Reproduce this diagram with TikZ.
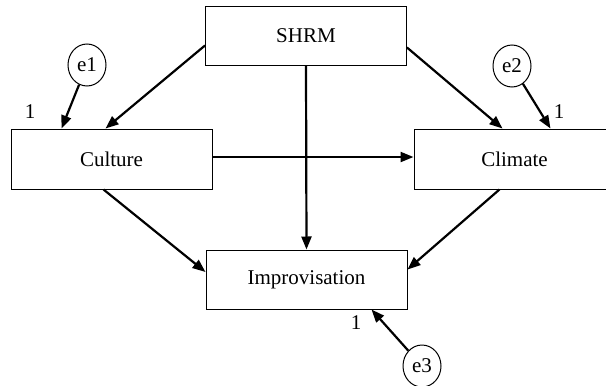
\documentclass[tikz,border=0pt]{standalone}
\usepackage{fontspec}
\setmainfont{Liberation Serif}
\usetikzlibrary{arrows.meta,shapes.geometric}
\begin{document}
\begin{tikzpicture}[x=1pt,y=-1pt,
  box/.style={draw,line width=1pt,minimum width=201pt,minimum height=59pt,inner sep=0pt,font=\fontsize{21}{24}\selectfont},
  err/.style={draw,ellipse,line width=1pt,minimum width=38pt,minimum height=42pt,inner sep=0pt,font=\fontsize{21}{24}\selectfont},
  lab/.style={font=\fontsize{21}{24}\selectfont,inner sep=0pt},
  arr/.style={line width=2.2pt,-{Triangle[length=13pt,width=10pt]}}]
\useasboundingbox (0,0) rectangle (606,386);
\node[box,minimum height=59pt] (shrm) at (306,35.5) {SHRM};
\node[box,minimum height=60pt] (cult) at (111.5,159) {Culture};
\node[box,minimum height=60pt] (clim) at (514.5,159) {Climate};
\node[box] (impr) at (306.5,279.5) {Improvisation};
\node[err] (e1) at (87,65) {e1};
\node[err] (e2) at (512,66) {e2};
\node[err] (e3) at (422,366) {e3};
\node[lab] (l1) at (30,112) {1};
\node[lab] (l2) at (559,112) {1};
\node[lab] (l3) at (356,323) {1};
\draw[arr] (e1) -- ([xshift=51pt]cult.north west);
\draw[arr] ([yshift=20pt]shrm.south west) -- ([xshift=95pt]cult.north west);
\draw[arr] ([yshift=18pt]shrm.south east) -- ([xshift=89pt]clim.north west);
\draw[arr] (e2) -- ([xshift=137pt]clim.north west);
\draw[arr] ([yshift=2pt]cult.east) -- ([yshift=2pt]clim.west);
\draw[arr] (shrm.south) -- (impr.north);
\draw[arr] ([xshift=93pt]cult.south west) -- ([yshift=7.5pt]impr.west);
\draw[arr] ([xshift=86pt]clim.south west) -- ([yshift=10pt]impr.east);
\draw[arr] (e3) -- ([xshift=-36pt]impr.south east);
\end{tikzpicture}
\end{document}
